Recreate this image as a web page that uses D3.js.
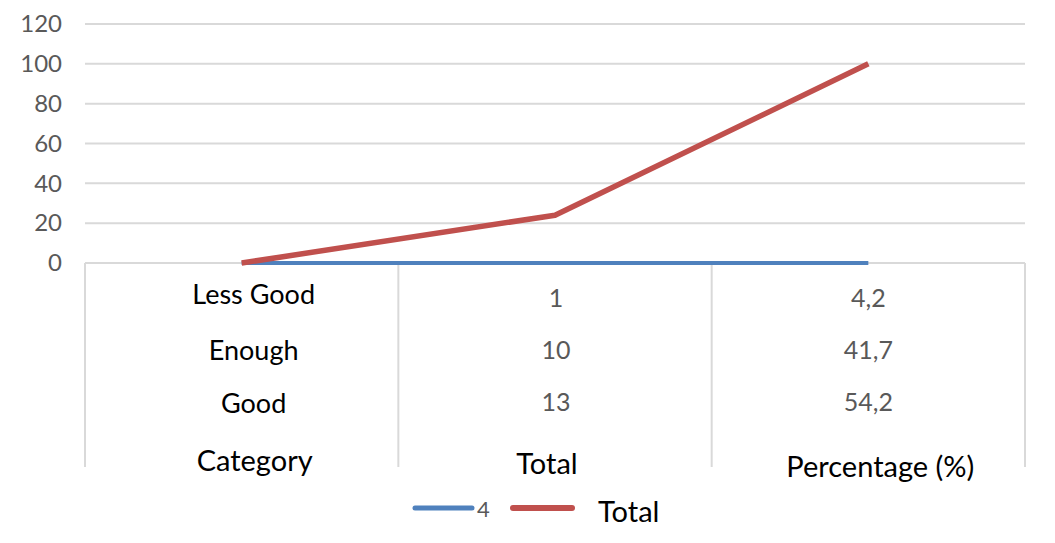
<!DOCTYPE html>
<html>
<head>
<meta charset="utf-8">
<script src="https://cdn.jsdelivr.net/npm/d3@7"></script>
<style>
  body { margin: 0; background: #fff; }
  text { font-family: Lato, "Open Sans", sans-serif; }
</style>
</head>
<body>
<div id="chart"></div>
<script>
// data
const columns = ["Category", "Total", "Percentage (%)"];
const rowLabels = [
  ["Less Good", "Enough", "Good"],
  ["1", "10", "13"],
  ["4,2", "41,7", "54,2"]
];
const series4 = [0, 0, 0];
const seriesTotal = [0, 24, 100];
const yTicks = [0, 20, 40, 60, 80, 100, 120];

const W = 1055, H = 543;
const margin = {top: 24, right: 30, bottom: 280, left: 85};
const plotW = W - margin.left - margin.right,
      plotH = H - margin.top - margin.bottom;

const svg = d3.select("#chart")
  .append("svg")
    .attr("width", W)
    .attr("height", H);

const g = svg.append("g")
    .attr("transform", "translate(" + margin.left + "," + margin.top + ")");

const x = d3.scaleBand()
  .domain(columns)
  .range([0, plotW]);

const y = d3.scaleLinear()
  .domain([0, 120])
  .range([plotH, 0]);

// gridlines
g.selectAll(".grid")
  .data(yTicks)
  .enter()
  .append("line")
    .attr("x1", 0)
    .attr("x2", plotW)
    .attr("y1", d => y(d))
    .attr("y2", d => y(d))
    .style("stroke", "#d9d9d9")
    .style("stroke-width", 2);

// y axis labels
const yAxis = d3.axisLeft(y).tickValues(yTicks).tickSize(0).tickPadding(23);
g.append("g")
  .call(yAxis)
  .call(a => a.select(".domain").remove())
  .selectAll("text")
    .style("font-size", "24px")
    .style("fill", "#595959")
    .style("font-family", "Lato, sans-serif");

// table-like category area
const tableH = 204;
const seps = columns.map(c => x(c)).concat([plotW]);
g.selectAll(".sep")
  .data(seps)
  .enter()
  .append("line")
    .attr("x1", d => d)
    .attr("x2", d => d)
    .attr("y1", plotH)
    .attr("y2", plotH + tableH)
    .style("stroke", "#d9d9d9")
    .style("stroke-width", 2);

const rowY = [[30, 86, 139], [34, 86, 138], [34, 86, 138]];
const rowDx = [12, 1, 0];
const headerY = [196, 199, 202];
const headerDx = [13, -8, 12];

columns.forEach((c, ci) => {
  const cx = x(c) + x.bandwidth() / 2;
  rowLabels[ci].forEach((lab, ri) => {
    g.append("text")
      .attr("x", cx + rowDx[ci])
      .attr("y", plotH + rowY[ci][ri])
      .attr("text-anchor", "middle")
      .attr("dominant-baseline", "central")
      .style("font-size", ci === 0 ? "27px" : "25px")
      .style("fill", ci === 0 ? "#000" : "#595959")
      .text(lab);
  });
  g.append("text")
    .attr("x", cx + headerDx[ci])
    .attr("y", plotH + headerY[ci])
    .attr("text-anchor", "middle")
    .attr("dominant-baseline", "central")
    .style("font-size", "29px")
    .style("fill", "#000")
    .text(c);
});

// lines
const line = d3.line()
  .x((d, i) => x(columns[i]) + x.bandwidth() / 2)
  .y(d => y(d));

g.append("path")
  .datum(series4)
  .attr("d", line)
  .style("fill", "none")
  .style("stroke", "#4f81bd")
  .style("stroke-width", 4);

g.append("path")
  .datum(seriesTotal)
  .attr("d", line)
  .style("fill", "none")
  .style("stroke", "#c0504d")
  .style("stroke-width", 5.5)
  .style("stroke-linejoin", "round");

// legend
const legend = svg.append("g").attr("transform", "translate(0,508)");
legend.append("line")
  .attr("x1", 415).attr("x2", 472).attr("y1", 0).attr("y2", 0)
  .style("stroke", "#4f81bd").style("stroke-width", 5).style("stroke-linecap", "round");
legend.append("text")
  .attr("x", 477).attr("y", 0)
  .attr("dominant-baseline", "central")
  .style("font-size", "22px").style("fill", "#595959")
  .text("4");
legend.append("line")
  .attr("x1", 513).attr("x2", 572).attr("y1", 0).attr("y2", 0)
  .style("stroke", "#c0504d").style("stroke-width", 6).style("stroke-linecap", "round");
legend.append("text")
  .attr("x", 598).attr("y", 2)
  .attr("dominant-baseline", "central")
  .style("font-size", "29px").style("fill", "#000")
  .text("Total");
</script>
</body>
</html>
